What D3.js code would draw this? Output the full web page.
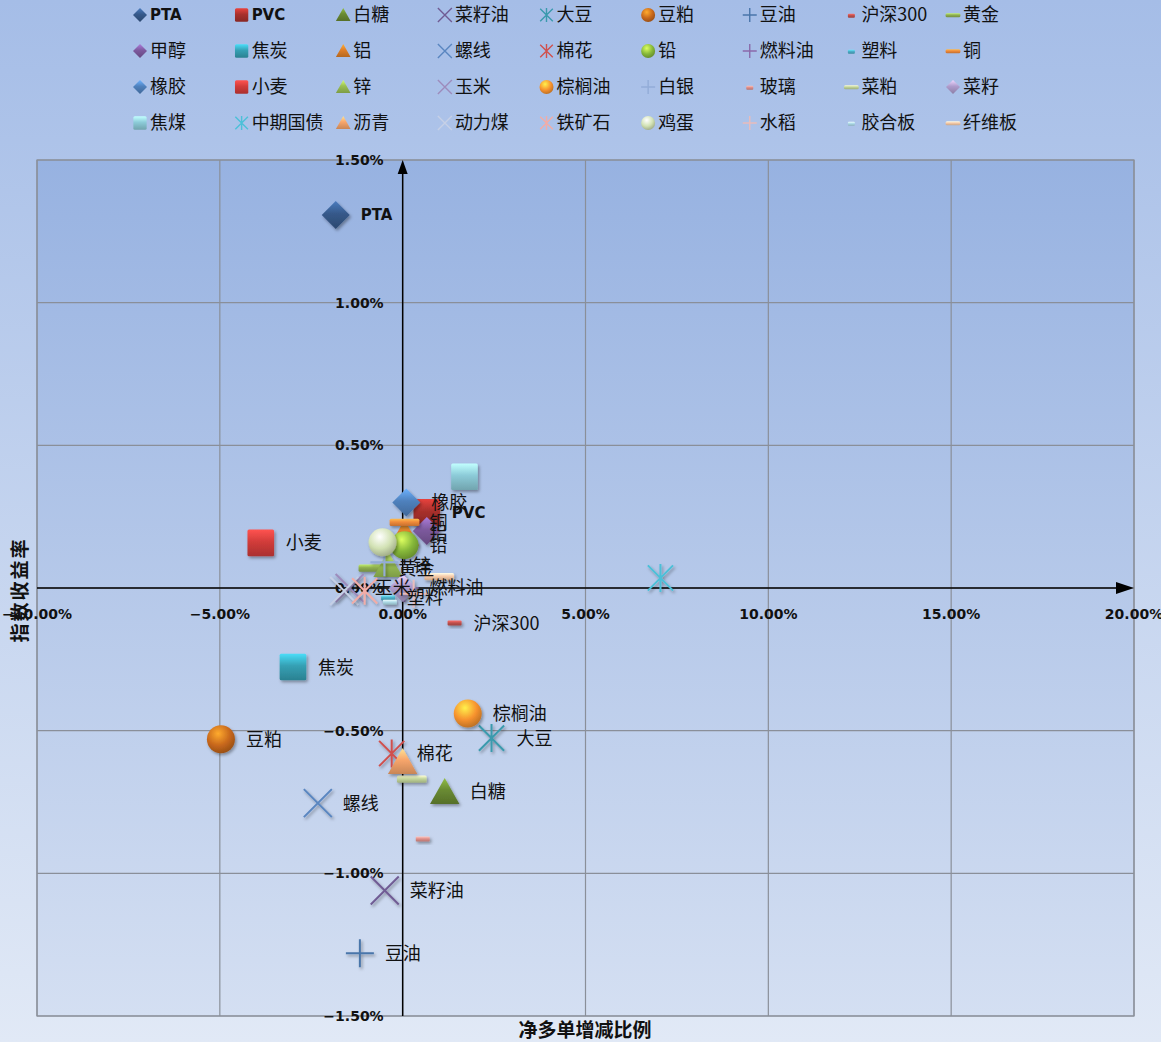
<!DOCTYPE html>
<html lang="zh-CN">
<head>
<meta charset="utf-8">
<title>净多单增减比例与指数收益率</title>
<script src="https://d3js.org/d3.v7.min.js"></script>
<style>
  html, body { margin: 0; padding: 0; }
  body { width: 1161px; height: 1042px; overflow: hidden; }
  svg { display: block; font-family: "Noto Sans CJK SC", "DejaVu Sans", sans-serif; }
  .grid line { stroke: #8a8f99; stroke-width: 1.2; }
  .tick-label { font-family: "DejaVu Sans", sans-serif; font-weight: bold; font-size: 14px; fill: #111; }
  .pt-label { font-size: 18px; fill: #111; }
  .pt-label.latin { font-family: "DejaVu Sans", sans-serif; font-weight: bold; font-size: 15px; }
  .leg-text { font-size: 18px; fill: #111; }
  .leg-text.latin { font-family: "DejaVu Sans", sans-serif; font-weight: bold; font-size: 15px; }
  .axis-title { font-size: 19px; font-weight: bold; fill: #111; }
</style>
</head>
<body>
<svg id="chart" width="1161" height="1042"></svg>
<script>
// 品种名称（图例顺序）
const names = ['PTA','PVC','白糖','菜籽油','大豆','豆粕','豆油','沪深300','黄金',
  '甲醇','焦炭','铝','螺线','棉花','铅','燃料油','塑料','铜',
  '橡胶','小麦','锌','玉米','棕榈油','白银','玻璃','菜粕','菜籽',
  '焦煤','中期国债','沥青','动力煤','铁矿石','鸡蛋','水稻','胶合板','纤维板'];
// 净多单增减比例 (%)
const netLong = [-1.83, 0.66, 1.15, -0.49, 2.43, -4.97, -1.17, 1.42, -0.80,
  0.66, -3.00, 0.05, -2.32, -0.30, 0.05, 0.05, -0.40, 0.05,
  0.10, -3.88, -0.40, -1.45, 1.78, -0.50, 0.55, 0.25, 0.00,
  1.69, 7.05, 0.00, -1.60, -1.04, -0.55, 0.30, -0.35, 1.00];
// 指数收益率 (%)
const indexReturn = [1.307, 0.265, -0.715, -1.06, -0.526, -0.53, -1.28, -0.123, 0.07,
  0.20, -0.277, 0.19, -0.754, -0.58, 0.15, 0.00, -0.035, 0.23,
  0.30, 0.158, 0.08, 0.00, -0.44, 0.09, -0.88, -0.67, 0.00,
  0.39, 0.035, -0.61, -0.01, -0.01, 0.16, -0.02, -0.05, 0.04];
// 显示数据标签的品种
const labelled = ['PTA','PVC','橡胶','铜','铝','铅','锌','黄金','玉米','燃料油','塑料',
  '沪深300','焦炭','小麦','豆粕','棕榈油','大豆','棉花','白糖','螺线','菜籽油','豆油'];
const xTicks = [-10, -5, 0, 5, 10, 15, 20];
const yTicks = [-1.5, -1, -0.5, 0, 0.5, 1, 1.5];

// marker styles per series
const shapes = ['diamond','square','triangle','x','asterisk','circle','plus','sdash','ldash',
  'diamond','square','triangle','x','asterisk','circle','plus','sdash','ldash',
  'diamond','square','triangle','x','circle','plus','sdash','ldash','diamond',
  'square','asterisk','triangle','x','asterisk','circle','plus','sdash','ldash'];
const colors = ['#36598a','#a8302c','#6a8b33','#705c94','#3a9aad','#c8681c','#4a76aa','#c0504d','#8fb050',
  '#7d5a9e','#35a0b4','#e07f28','#5a86c0','#d0504d','#86b83a','#8a6aaa','#4bacc6','#f08a3a',
  '#4f81bd','#d23c3a','#9bc156','#9d8cbc','#f7922e','#93acd8','#df8f8a','#c3d69b','#ae9ccc',
  '#8ccbd8','#4cc0d8','#f8a66c','#c6d0e6','#f2aca6','#d2e2b4','#e8bcbc','#aedbe8','#f8ccaa'];

const svg = d3.select('#chart');
const W = 1161, H = 1042;
const defs = svg.append('defs');

// backgrounds
const bg = defs.append('linearGradient').attr('id', 'bg').attr('x1', 0).attr('y1', 0).attr('x2', 0).attr('y2', 1);
bg.append('stop').attr('offset', 0).attr('stop-color', '#a5bde7');
bg.append('stop').attr('offset', 1).attr('stop-color', '#e1e9f6');
const pg = defs.append('linearGradient').attr('id', 'plotbg').attr('x1', 0).attr('y1', 0).attr('x2', 0).attr('y2', 1);
pg.append('stop').attr('offset', 0).attr('stop-color', '#97b2e1');
pg.append('stop').attr('offset', 1).attr('stop-color', '#d4dff2');

const shadow = defs.append('filter').attr('id', 'shadow').attr('x', '-50%').attr('y', '-50%').attr('width', '200%').attr('height', '200%');
shadow.append('feDropShadow').attr('dx', 1.5).attr('dy', 2).attr('stdDeviation', 1.6)
  .attr('flood-color', '#000').attr('flood-opacity', 0.35);

// gloss gradients per series
colors.forEach((c, i) => {
  const lg = defs.append('linearGradient').attr('id', 'g' + i).attr('x1', 0).attr('y1', 0).attr('x2', 0).attr('y2', 1);
  lg.append('stop').attr('offset', 0).attr('stop-color', d3.color(c).brighter(0.9));
  lg.append('stop').attr('offset', 0.45).attr('stop-color', c);
  lg.append('stop').attr('offset', 1).attr('stop-color', d3.color(c).darker(0.6));
  const rg = defs.append('radialGradient').attr('id', 'r' + i).attr('cx', 0.4).attr('cy', 0.3).attr('r', 0.7);
  rg.append('stop').attr('offset', 0).attr('stop-color', d3.color(c).brighter(1.4));
  rg.append('stop').attr('offset', 0.6).attr('stop-color', c);
  rg.append('stop').attr('offset', 1).attr('stop-color', d3.color(c).darker(0.7));
});

svg.append('rect').attr('width', W).attr('height', H).attr('fill', 'url(#bg)');

const x = d3.scaleLinear().domain([-10, 20]).range([37, 1134]);
const y = d3.scaleLinear().domain([-1.5, 1.5]).range([1016, 160]);

svg.append('rect').attr('x', x(-10)).attr('y', y(1.5))
  .attr('width', x(20) - x(-10)).attr('height', y(-1.5) - y(1.5))
  .attr('fill', 'url(#plotbg)').attr('stroke', '#8a8f99').attr('stroke-width', 1.2);

const grid = svg.append('g').attr('class', 'grid');
grid.selectAll('.vx').data(xTicks).join('line')
  .attr('x1', d => x(d)).attr('x2', d => x(d)).attr('y1', y(1.5)).attr('y2', y(-1.5));
grid.selectAll('.hy').data(yTicks).join('line')
  .attr('y1', d => y(d)).attr('y2', d => y(d)).attr('x1', x(-10)).attr('x2', x(20));

// axes through origin
const axes = svg.append('g');
axes.append('line').attr('x1', x(0)).attr('x2', x(0)).attr('y1', y(-1.5)).attr('y2', y(1.5) + 10)
  .attr('stroke', '#000').attr('stroke-width', 1.5);
axes.append('path').attr('d', `M${x(0)},${y(1.5)} l-5,14 l10,0 z`).attr('fill', '#000');
axes.append('line').attr('x1', x(-10)).attr('x2', x(20) - 10).attr('y1', y(0)).attr('y2', y(0))
  .attr('stroke', '#000').attr('stroke-width', 1.5);
axes.append('path').attr('d', `M${x(20)},${y(0)} l-18,-6 l0,12 z`).attr('fill', '#000');

const fmt = d3.format('.2%');
svg.selectAll('.ylab').data(yTicks).join('text').attr('class', 'tick-label')
  .attr('x', x(0) - 19).attr('y', d => y(d)).attr('dy', '0.35em').attr('text-anchor', 'end')
  .text(d => fmt(d / 100));
svg.selectAll('.xlab').data(xTicks).join('text').attr('class', 'tick-label')
  .attr('x', d => x(d)).attr('y', y(0) + 26).attr('dy', '0.35em').attr('text-anchor', 'middle')
  .text(d => fmt(d / 100));

svg.append('text').attr('class', 'axis-title').attr('x', 585).attr('y', 1037)
  .attr('text-anchor', 'middle').text('净多单增减比例');
svg.append('text').attr('class', 'axis-title')
  .attr('transform', 'translate(27,590) rotate(-90)').attr('text-anchor', 'middle')
  .attr('letter-spacing', '2px').text('指数收益率');

// marker drawing
function drawMarker(g, shape, i, s) {
  const h = s / 2;
  const fill = 'url(#g' + i + ')';
  const col = colors[i];
  const sw = Math.max(1.4, s / 14);
  switch (shape) {
    case 'diamond':
      g.append('path').attr('d', `M0,${-h} L${h},0 L0,${h} L${-h},0 Z`).attr('fill', fill);
      break;
    case 'square':
      g.append('rect').attr('x', -h * 0.95).attr('y', -h * 0.95).attr('width', s * 0.95).attr('height', s * 0.95)
        .attr('rx', 1.5).attr('fill', fill);
      break;
    case 'triangle':
      g.append('path').attr('d', `M0,${-h} L${h * 1.05},${h * 0.85} L${-h * 1.05},${h * 0.85} Z`).attr('fill', fill);
      break;
    case 'circle':
      g.append('circle').attr('r', h).attr('fill', 'url(#r' + i + ')');
      break;
    case 'x':
      g.append('path').attr('d', `M${-h},${-h} L${h},${h} M${h},${-h} L${-h},${h}`)
        .attr('stroke', col).attr('stroke-width', sw).attr('fill', 'none');
      break;
    case 'asterisk':
      g.append('path').attr('d', `M${-h * 0.9},${-h * 0.9} L${h * 0.9},${h * 0.9} M${h * 0.9},${-h * 0.9} L${-h * 0.9},${h * 0.9} M0,${-h} L0,${h}`)
        .attr('stroke', col).attr('stroke-width', sw).attr('fill', 'none');
      break;
    case 'plus':
      g.append('path').attr('d', `M${-h},0 L${h},0 M0,${-h} L0,${h}`)
        .attr('stroke', col).attr('stroke-width', sw).attr('fill', 'none');
      break;
    case 'sdash':
      g.append('rect').attr('x', -s * 0.25).attr('y', -s * 0.09).attr('width', s * 0.5).attr('height', Math.max(4, s * 0.18))
        .attr('rx', 1).attr('fill', fill);
      break;
    case 'ldash':
      g.append('rect').attr('x', -s * 0.53).attr('y', -s * 0.13).attr('width', s * 1.06).attr('height', Math.max(4, s * 0.26))
        .attr('rx', 1.5).attr('fill', fill);
      break;
  }
}

// points
const pts = names.map((n, i) => ({ name: n, i, x: netLong[i], y: indexReturn[i] }));
const MS = 28;
const ptLayer = svg.append('g');
pts.forEach(p => {
  const g = ptLayer.append('g').attr('transform', `translate(${x(p.x)},${y(p.y)})`)
    .attr('filter', 'url(#shadow)');
  drawMarker(g, shapes[p.i], p.i, MS);
});
const latin = /^[A-Z0-9]+$/;
ptLayer.selectAll('.pt-label').data(pts.filter(p => labelled.includes(p.name))).join('text')
  .attr('class', p => 'pt-label' + (latin.test(p.name) ? ' latin' : ''))
  .attr('x', p => x(p.x) + (shapes[p.i] === 'sdash' ? 19 : 25))
  .attr('y', p => y(p.y)).attr('dy', '0.36em')
  .text(p => p.name);

// legend 9 x 4
const legend = svg.append('g');
const lx = d3.scalePoint().domain(d3.range(9)).range([140, 953]);
const ly = d3.scalePoint().domain(d3.range(4)).range([15, 123]);
names.forEach((n, i) => {
  const cx = lx(i % 9), cy = ly(Math.floor(i / 9));
  const g = legend.append('g').attr('transform', `translate(${cx},${cy})`);
  drawMarker(g, shapes[i], i, 14);
  legend.append('text').attr('class', 'leg-text' + (latin.test(n) ? ' latin' : ''))
    .attr('x', cx + 10).attr('y', cy).attr('dy', '0.36em').text(n);
});
</script>
</body>
</html>
